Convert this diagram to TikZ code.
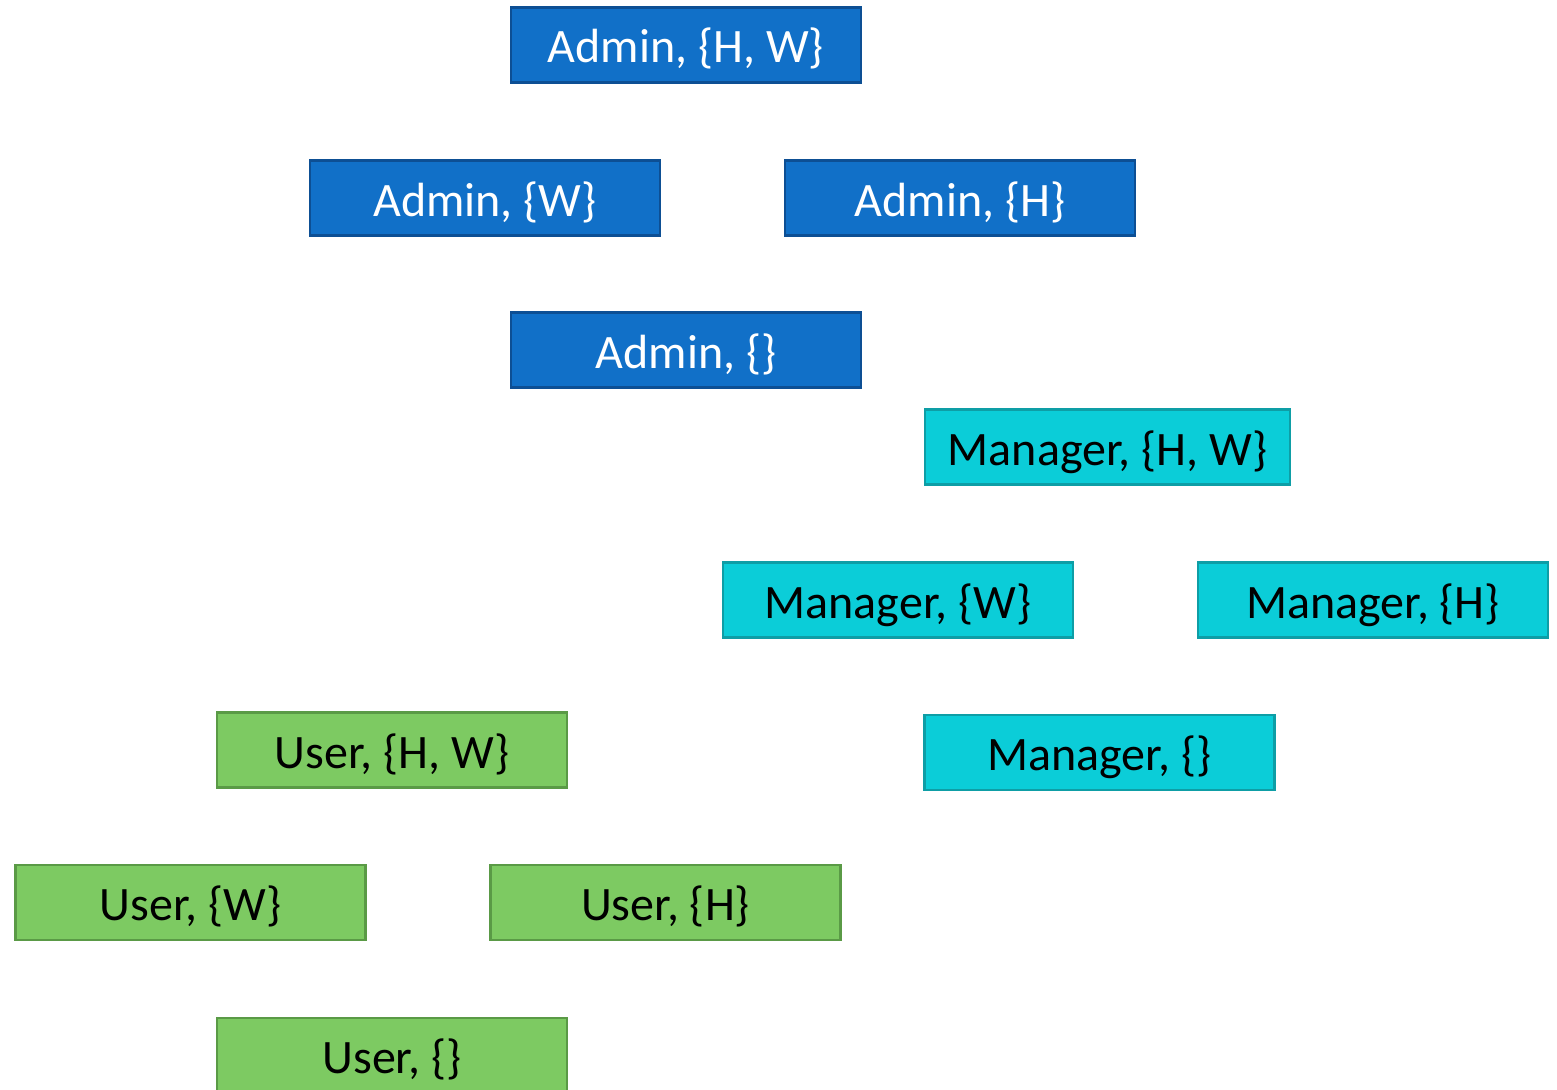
\documentclass[tikz,border=0pt]{standalone}
\usepackage{fontspec}
\setmainfont{Carlito}
\definecolor{adminfill}{HTML}{1170C8}
\definecolor{admindraw}{HTML}{0D4F94}
\definecolor{mgrfill}{HTML}{0BCDD8}
\definecolor{mgrdraw}{HTML}{0E9EA6}
\definecolor{userfill}{HTML}{7DCA62}
\definecolor{userdraw}{HTML}{5A9A46}
\begin{document}
\begin{tikzpicture}[x=1pt,y=-1pt,
  cell/.style={rectangle, line width=2.5pt, minimum width=350pt, minimum height=75pt,
    inner sep=0pt, text height=41pt, text depth=5pt,
    font=\fontsize{48}{52}\selectfont},
  admin/.style={cell, fill=adminfill, draw=admindraw, text=white},
  mgr/.style={cell, fill=mgrfill, draw=mgrdraw, text=black},
  usr/.style={cell, fill=userfill, draw=userdraw, text=black}]
\useasboundingbox (0,0) rectangle (1557,1089);
\clip (0,0) rectangle (1557,1089);
% Admin lattice
\node[admin] (aHW) at (686,45) {Admin, \{H, W\}};
\node[admin] (aW)  at (485,198) {Admin, \{W\}};
\node[admin] (aH)  at (960,198) {Admin, \{H\}};
\node[admin] (a0)  at (686,350) {Admin, \{\}};
% Manager lattice
\node[mgr, minimum width=365pt] (mHW) at (1107.5,447) {Manager, \{H, W\}};
\node[mgr] (mW) at (898,600) {Manager, \{W\}};
\node[mgr] (mH) at (1373,600) {Manager, \{H\}};
\node[mgr] (m0) at (1099.5,752.5) {Manager, \{\}};
% User lattice
\node[usr] (uHW) at (392,750) {User, \{H, W\}};
\node[usr] (uW)  at (190.5,902.5) {User, \{W\}};
\node[usr] (uH)  at (665.5,902.5) {User, \{H\}};
\node[usr] (u0)  at (392,1055.5) {User, \{\}};
\end{tikzpicture}
\end{document}
